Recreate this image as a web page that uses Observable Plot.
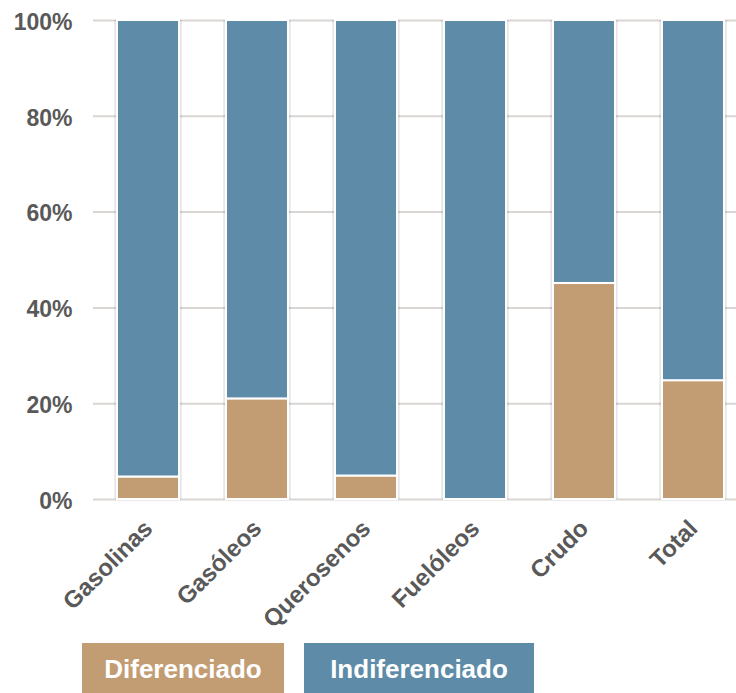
<!DOCTYPE html>
<html>
<head>
<meta charset="utf-8">
<script src="https://cdn.jsdelivr.net/npm/d3@7"></script>
<script src="https://cdn.jsdelivr.net/npm/@observablehq/plot@0.6"></script>
<style>
  html, body { margin: 0; padding: 0; background: #fff; }
  body { font-family: "Liberation Sans", Arial, sans-serif; width: 736px; height: 693px; overflow: hidden; }
  #legend { display: flex; gap: 20px; margin-left: 82px; margin-top: 3px; }
  .key { height: 52px; color: #fff; font-weight: bold; font-size: 26px; display: flex; align-items: center; justify-content: center; }
</style>
</head>
<body>
<div id="chart"></div>
<div id="legend"></div>
<script>
const categories = ["Gasolinas", "Gasóleos", "Querosenos", "Fuelóleos", "Crudo", "Total"];
const series = ["Diferenciado", "Indiferenciado"];
const diferenciado = [4.7, 21.0, 4.9, 0, 45.1, 24.8];
const indiferenciado = [95.3, 79.0, 95.1, 100, 54.9, 75.2];
const yTicks = [0, 20, 40, 60, 80, 100];
const colors = ["#c29d74", "#5e8ca8"];

const rows = [];
categories.forEach((c, i) => {
  rows.push({cat: c, serie: series[0], value: diferenciado[i]});
  rows.push({cat: c, serie: series[1], value: indiferenciado[i]});
});
const totals = categories.map((c, i) => ({cat: c, value: diferenciado[i] + indiferenciado[i]}));

const chart = Plot.plot({
  width: 736,
  height: 640,
  marginLeft: 93,
  marginRight: 0,
  marginTop: 20,
  marginBottom: 141,
  style: {fontFamily: "'Liberation Sans', Arial, sans-serif", background: "#fff", overflow: "visible"},
  x: {domain: categories, range: [93.5, 747.5], paddingInner: 0.431, paddingOuter: 0.2155, label: null},
  y: {domain: [0, 100], label: null},
  color: {domain: series, range: colors},
  marks: [
    Plot.ruleY(yTicks, {stroke: "#d9d6d3", strokeWidth: 2}),
    Plot.barY(totals, {x: "cat", y: "value", fill: "#000", fillOpacity: 0.07, insetLeft: -3, insetRight: -3}),
    Plot.barY(totals, {x: "cat", y: "value", fill: "#000", fillOpacity: 0.05, insetLeft: -1.5, insetRight: -1.5}),
    Plot.barY(rows, {x: "cat", y: "value", fill: "serie", stroke: "#fff", strokeWidth: 2, order: series}),
    Plot.axisY({ticks: yTicks, tickFormat: d => d + "%", tickSize: 0, tickPadding: 21, fontSize: 23, fontWeight: "bold", fill: "#595959", dy: 2}),
    Plot.axisX({tickSize: 0, tickRotate: -45, tickPadding: 25, fontSize: 24, fontWeight: "bold", fill: "#595959", dx: 0})
  ]
});
document.getElementById("chart").appendChild(chart);

const legendWidths = [202, 230];
const legend = document.getElementById("legend");
series.forEach((s, i) => {
  const d = document.createElement("div");
  d.className = "key";
  d.style.background = colors[i];
  d.style.width = legendWidths[i] + "px";
  d.textContent = s;
  legend.appendChild(d);
});
</script>
</body>
</html>
